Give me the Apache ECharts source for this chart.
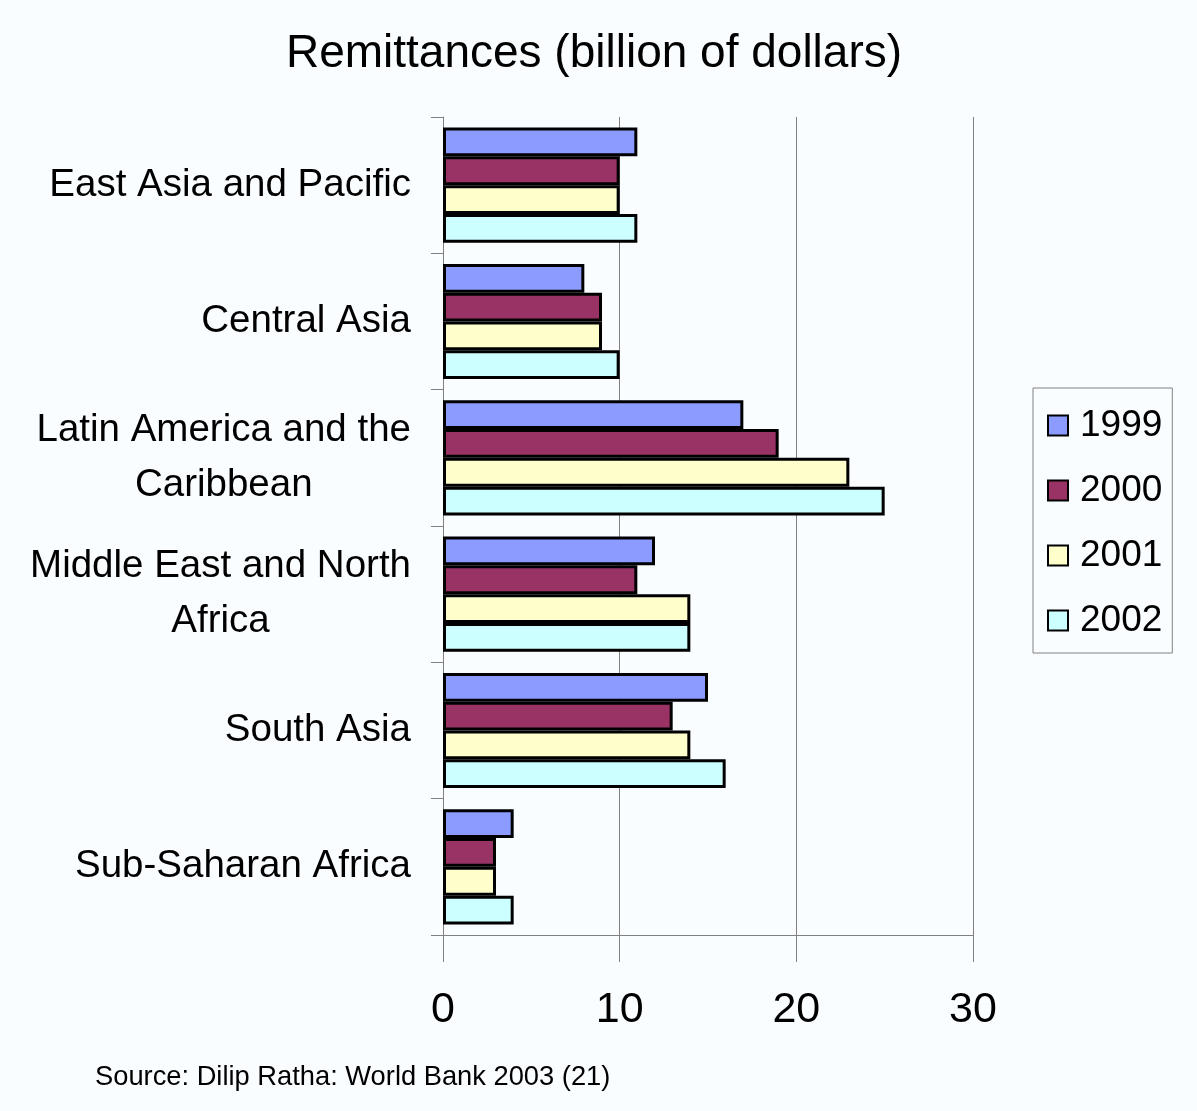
<!DOCTYPE html>
<html>
<head>
<meta charset="utf-8">
<script src="https://cdn.jsdelivr.net/npm/echarts@6/dist/echarts.min.js"></script>
<style>
html,body{margin:0;padding:0;background:#FAFDFF;}
#chart{width:1197px;height:1111px;}
</style>
</head>
<body>
<div id="chart"></div>
<script>
var categories = ['East Asia and Pacific', 'Central Asia', 'Latin America and the\nCaribbean', 'Middle East and North\nAfrica', 'South Asia', 'Sub-Saharan Africa'];
var seriesNames = ['1999', '2000', '2001', '2002'];
var values1999 = [11, 8, 17, 12, 15, 4];
var values2000 = [10, 9, 19, 11, 13, 3];
var values2001 = [10, 9, 23, 14, 14, 3];
var values2002 = [11, 10, 25, 14, 16, 4];
var xTicks = [0, 10, 20, 30];
var titleText = 'Remittances (billion of dollars)';
var sourceText = 'Source: Dilip Ratha: World Bank 2003 (21)';

var colors = ['#8C9BFF', '#993366', '#FFFFCC', '#CCFFFF'];
var allValues = [values1999, values2000, values2001, values2002];
var FONT = '"Liberation Sans", Arial, sans-serif';

var chart = echarts.init(document.getElementById('chart'));
var series = seriesNames.map(function (name, i) {
  return {
    name: name,
    type: 'bar',
    data: allValues[i],
    barGap: '0%',
    barCategoryGap: '15.5%',
    itemStyle: { color: colors[i], borderColor: '#000', borderWidth: 3 }
  };
});

chart.setOption({
  backgroundColor: '#FAFDFF',
  animation: false,
  color: colors,
  title: {
    text: titleText,
    left: 589,
    top: 26,
    textAlign: 'center',
    textStyle: { fontFamily: FONT, fontSize: 46, fontWeight: 'normal', color: '#000' }
  },
  legend: {
    orient: 'vertical',
    left: 1033,
    top: 388,
    width: 138,
    padding: [19, 10, 14, 14],
    itemGap: 28,
    itemWidth: 20,
    itemHeight: 20,
    icon: 'rect',
    borderColor: '#808080',
    borderWidth: 1,
    backgroundColor: '#FAFDFF',
    itemStyle: { borderColor: '#000', borderWidth: 2 },
    textStyle: { fontFamily: FONT, fontSize: 37, lineHeight: 36, color: '#000', padding: [0, 0, 0, 7] },
    data: seriesNames
  },
  grid: { left: 443, right: 224, top: 117, bottom: 176, containLabel: false },
  xAxis: {
    type: 'value',
    min: xTicks[0],
    max: xTicks[xTicks.length - 1],
    interval: 10,
    axisLine: { show: true, lineStyle: { color: '#808080', width: 1 } },
    axisTick: { show: true, length: 27, lineStyle: { color: '#808080', width: 1 } },
    splitLine: { show: true, lineStyle: { color: '#808080', width: 1 } },
    axisLabel: { margin: 54, fontFamily: FONT, fontSize: 43, color: '#000' }
  },
  yAxis: {
    type: 'category',
    inverse: true,
    data: categories,
    axisLine: { show: true, lineStyle: { color: '#808080', width: 1 } },
    axisTick: { show: true, length: 12, lineStyle: { color: '#808080', width: 1 } },
    axisLabel: {
      margin: 32,
      formatter: function (v) { return '{c|' + v.split('\n').join('}\n{c|') + '}'; },
      rich: { c: { align: 'center', fontFamily: FONT, fontSize: 38.5, lineHeight: 55, color: '#000' } }
    }
  },
  graphic: [{
    type: 'text',
    left: 95,
    top: 1064,
    style: { text: sourceText, fontFamily: FONT, fontSize: 27.3, fill: '#000' }
  }],
  series: series
});
</script>
</body>
</html>
